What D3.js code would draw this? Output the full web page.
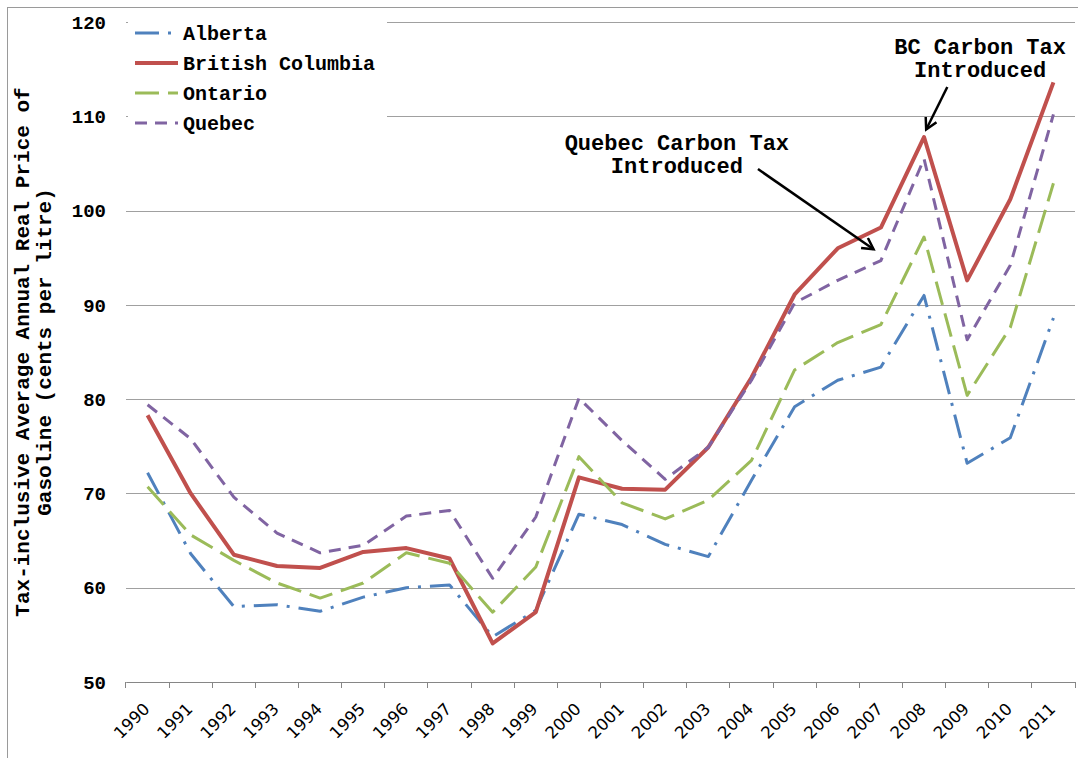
<!DOCTYPE html>
<html>
<head>
<meta charset="utf-8">
<script src="https://cdn.jsdelivr.net/npm/d3@7"></script>
<style>
  body { margin: 0; background: #fff; }
  svg { display: block; }
  .mono { font-family: "Liberation Mono", "Courier New", monospace; font-weight: bold; fill: #000; }
</style>
</head>
<body>
<div id="chart"></div>
<script>
const years = ['1990', '1991', '1992', '1993', '1994', '1995', '1996', '1997', '1998', '1999', '2000',
    '2001', '2002', '2003', '2004', '2005', '2006', '2007', '2008', '2009', '2010', '2011'];

const alberta = [72.2, 63.6, 58.0, 58.2, 57.5, 59.0, 60.0, 60.3, 54.8, 57.6, 67.8,
    66.7, 64.6, 63.3, 71.4, 79.2, 82.0, 83.4, 91.0, 73.2, 75.9, 88.6];
const britishColumbia = [78.3, 70.0, 63.5, 62.3, 62.1, 63.8, 64.2, 63.1, 54.1, 57.4, 71.7,
    70.5, 70.4, 74.9, 82.3, 91.1, 96.0, 98.2, 107.8, 92.6, 101.2, 113.6];
const ontario = [70.7, 65.6, 62.9, 60.5, 58.9, 60.5, 63.7, 62.6, 57.4, 62.2, 73.9,
    69.0, 67.3, 69.3, 73.5, 83.1, 86.0, 87.9, 97.2, 80.4, 87.6, 102.9];
const quebec = [79.4, 75.8, 69.6, 65.8, 63.7, 64.5, 67.6, 68.2, 61.0, 67.5, 80.1,
    75.6, 71.5, 74.9, 82.0, 90.2, 92.6, 94.7, 105.5, 86.3, 94.2, 110.2];

const yTicks = [50, 60, 70, 80, 90, 100, 110, 120];

const series = [
    { name: 'Alberta', values: alberta, color: '#4F81BD', width: 3, dash: '24,9,3,9' },
    { name: 'British Columbia', values: britishColumbia, color: '#C0504D', width: 4, dash: null },
    { name: 'Ontario', values: ontario, color: '#9BBB59', width: 3, dash: '24,9' },
    { name: 'Quebec', values: quebec, color: '#8064A2', width: 3, dash: '12,8' }
];

// annotation anchors in (year, value) units
const notes = [
    { lines: ['BC Carbon Tax', 'Introduced'], year: 2009.3, values: [116.6, 114.2],
      from: [2008.54, 113.1], to: [2008.05, 108.6] },
    { lines: ['Quebec Carbon Tax', 'Introduced'], year: 2002.27, values: [106.4, 104.0],
      from: [2004.15, 104.4], to: [2006.83, 95.9] }
];

const width = 1078;
const height = 758;
const plot = { left: 126, right: 1075, top: 22, bottom: 682 };

const svg = d3.select('#chart')
    .append('svg')
    .attr('width', width)
    .attr('height', height);

svg.append('defs')
    .append('marker')
    .attr('id', 'arrow')
    .attr('markerUnits', 'userSpaceOnUse')
    .attr('markerWidth', 16)
    .attr('markerHeight', 16)
    .attr('refX', 12)
    .attr('refY', 7)
    .attr('orient', 'auto')
    .append('path')
    .attr('d', 'M1,1 L12,7 L1,13')
    .attr('fill', 'none')
    .attr('stroke', '#000')
    .attr('stroke-width', 2.5);

// chart frame
svg.append('rect')
    .attr('x', 7.5)
    .attr('y', 7.5)
    .attr('width', 1200)
    .attr('height', 900)
    .attr('fill', 'none')
    .attr('stroke', '#9a9a9a');

const x = d3.scaleBand().domain(years).range([plot.left, plot.right]);
const y = d3.scaleLinear().domain([50, 120]).range([plot.bottom, plot.top]);
const cx = d => x(d) + x.bandwidth() / 2;
const xYear = d3.scaleLinear().domain([+years[0], +years[years.length - 1]])
    .range([cx(years[0]), cx(years[years.length - 1])]);

// gridlines
const grid = svg.append('g')
    .attr('transform', `translate(${plot.left},0)`)
    .call(d3.axisLeft(y).tickValues(yTicks).tickSize(-(plot.right - plot.left)).tickFormat(''));
grid.select('.domain').remove();
grid.selectAll('line').attr('stroke', '#a0a0a0').attr('shape-rendering', 'crispEdges');

// y tick labels
svg.append('g')
    .selectAll('text')
    .data(yTicks)
    .enter()
    .append('text')
    .attr('class', 'mono')
    .attr('x', 106)
    .attr('y', d => y(d))
    .attr('dy', '0.35em')
    .attr('text-anchor', 'end')
    .style('font-size', '19px')
    .text(d => d);

// x axis
const xAxis = svg.append('g')
    .attr('transform', `translate(0,${plot.bottom})`)
    .call(d3.axisBottom(x).tickSize(6).tickSizeOuter(0).tickFormat(''));
xAxis.select('.domain').attr('stroke', '#868686');
xAxis.selectAll('.tick line')
    .attr('x1', -x.bandwidth() / 2)
    .attr('x2', -x.bandwidth() / 2)
    .attr('stroke', '#868686');
xAxis.append('line')
    .attr('x1', plot.right)
    .attr('x2', plot.right)
    .attr('y1', 0)
    .attr('y2', 6)
    .attr('stroke', '#868686');
xAxis.attr('shape-rendering', 'crispEdges');

svg.append('g')
    .selectAll('text')
    .data(years)
    .enter()
    .append('text')
    .attr('transform', d => `translate(${cx(d) + 3},${plot.bottom + 28}) rotate(-45)`)
    .attr('text-anchor', 'end')
    .style('font-family', '"DejaVu Sans", sans-serif')
    .style('font-weight', '500')
    .style('font-size', '16.5px')
    .attr('fill', '#000')
    .text(d => d);

// y axis title
const yTitle = ['Tax-inclusive Average Annual Real Price of', 'Gasoline (cents per litre)'];
svg.append('g')
    .selectAll('text')
    .data(yTitle)
    .enter()
    .append('text')
    .attr('class', 'mono')
    .attr('transform', (d, i) => `translate(${23 + i * 22},${(plot.top + plot.bottom) / 2}) rotate(-90)`)
    .attr('text-anchor', 'middle')
    .attr('dy', '0.3em')
    .style('font-size', '21px')
    .text(d => d);

// series lines
const line = d3.line()
    .x((d, i) => cx(years[i]))
    .y(d => y(d));

svg.append('g')
    .selectAll('path')
    .data(series)
    .enter()
    .append('path')
    .attr('d', d => line(d.values))
    .attr('fill', 'none')
    .attr('stroke', d => d.color)
    .attr('stroke-width', d => d.width)
    .attr('stroke-dasharray', d => d.dash)
    .attr('stroke-linejoin', 'round');

// legend
const legend = svg.append('g');
legend.append('rect')
    .attr('x', 128)
    .attr('y', 12)
    .attr('width', 259)
    .attr('height', 128)
    .attr('fill', '#fff');

const item = legend.selectAll('.item')
    .data(series)
    .enter()
    .append('g')
    .attr('class', 'item')
    .attr('transform', (d, i) => `translate(135,${33 + i * 30})`);

item.append('line')
    .attr('x1', 0)
    .attr('x2', 43)
    .attr('stroke', d => d.color)
    .attr('stroke-width', d => d.width)
    .attr('stroke-dasharray', d => d.dash);

item.append('text')
    .attr('class', 'mono')
    .attr('x', 48)
    .attr('dy', '0.35em')
    .style('font-size', '20px')
    .text(d => d.name);

// annotations
const note = svg.append('g')
    .selectAll('g')
    .data(notes)
    .enter()
    .append('g');

note.selectAll('text')
    .data(d => d.lines.map((t, i) => ({ t, year: d.year, v: d.values[i] })))
    .enter()
    .append('text')
    .attr('class', 'mono')
    .attr('x', d => xYear(d.year))
    .attr('y', d => y(d.v))
    .attr('text-anchor', 'middle')
    .style('font-size', '22px')
    .text(d => d.t);

note.append('line')
    .attr('x1', d => xYear(d.from[0]))
    .attr('y1', d => y(d.from[1]))
    .attr('x2', d => xYear(d.to[0]))
    .attr('y2', d => y(d.to[1]))
    .attr('stroke', '#000')
    .attr('stroke-width', 2.5)
    .attr('marker-end', 'url(#arrow)');
</script>
</body>
</html>
